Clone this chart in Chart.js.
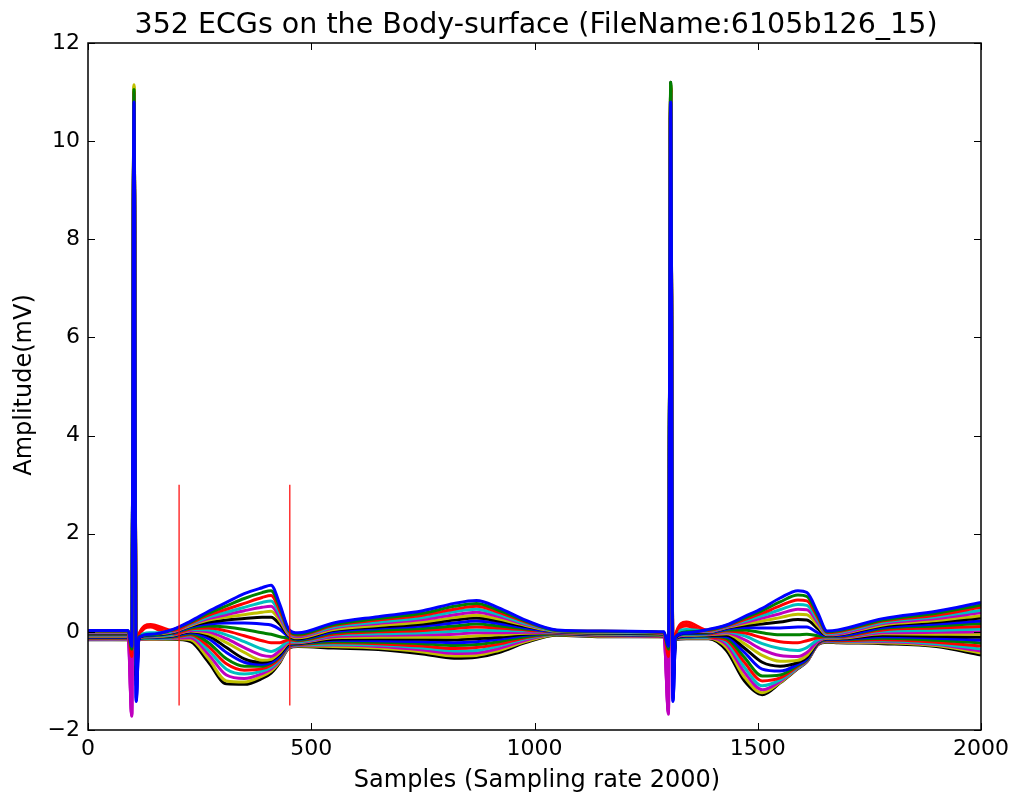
<!DOCTYPE html>
<html>
<head>
<meta charset="utf-8">
<script src="https://cdn.jsdelivr.net/npm/chart.js@4.4.1/dist/chart.umd.min.js"></script>
<style>
html,body{margin:0;padding:0;background:#fff;}
canvas{display:block;}
</style>
</head>
<body>
<canvas id="c" width="1015" height="796"></canvas>
<script>
// Sample positions (x, in samples) shared by all traces
const samples = [0, 90, 98, 103, 108, 114, 140, 190, 230, 270, 310, 350, 390, 410, 430, 450, 470, 550, 650, 750, 820, 870, 920, 980, 1050, 1150, 1290, 1300, 1305, 1310, 1316, 1340, 1390, 1430, 1470, 1510, 1550, 1590, 1610, 1635, 1655, 1680, 1780, 1900, 2000];

// Representative body-surface leads (mV), top to bottom of the fan
const lead01 = [0.03, 0.03, -0.3, 10.8, -1.4, -0.12, -0.05, 0.05, 0.22, 0.42, 0.60, 0.78, 0.90, 0.95, 0.55, 0.05, -0.02, 0.18, 0.31, 0.43, 0.58, 0.64, 0.49, 0.24, 0.04, 0.02, 0.0, -0.3, 10.8, -1.4, -0.1, -0.02, 0.05, 0.14, 0.31, 0.48, 0.69, 0.84, 0.80, 0.38, 0.02, 0.04, 0.27, 0.42, 0.60];
const lead02 = [0.02, 0.02, -0.35, 11.05, -0.8, -0.1, -0.06, 0.04, 0.20, 0.38, 0.53, 0.68, 0.80, 0.84, 0.50, 0.02, -0.05, 0.15, 0.27, 0.38, 0.52, 0.58, 0.44, 0.22, 0.03, 0.01, -0.01, -0.35, 11.2, -0.8, -0.1, 0.0, 0.04, 0.13, 0.28, 0.43, 0.61, 0.75, 0.72, 0.33, 0.00, 0.02, 0.24, 0.38, 0.55];
const lead03 = [0.01, 0.01, -0.5, 11.0, -0.6, -0.05, 0.15, 0.03, 0.18, 0.34, 0.46, 0.58, 0.70, 0.74, 0.42, 0.00, -0.07, 0.13, 0.24, 0.34, 0.46, 0.52, 0.40, 0.20, 0.03, 0.01, -0.02, -0.5, 11.05, -0.6, -0.05, 0.2, 0.03, 0.12, 0.25, 0.38, 0.53, 0.65, 0.63, 0.28, -0.02, 0.00, 0.22, 0.34, 0.50];
const lead04 = [0.0, 0.0, -0.4, 10.95, -0.7, -0.08, -0.02, 0.02, 0.16, 0.30, 0.40, 0.50, 0.60, 0.63, 0.35, -0.02, -0.08, 0.10, 0.20, 0.29, 0.41, 0.46, 0.35, 0.17, 0.02, 0.0, -0.02, -0.4, 11.0, -0.7, -0.08, 0.05, 0.02, 0.11, 0.22, 0.33, 0.45, 0.56, 0.54, 0.23, -0.04, -0.02, 0.19, 0.31, 0.44];
const lead05 = [-0.01, -0.01, -1.7, 10.85, -0.5, -0.1, -0.04, 0.01, 0.15, 0.27, 0.35, 0.43, 0.50, 0.52, 0.28, -0.04, -0.10, 0.08, 0.17, 0.25, 0.35, 0.40, 0.31, 0.15, 0.02, 0.0, -0.03, -1.65, 10.9, -0.5, -0.1, 0.02, 0.01, 0.10, 0.19, 0.28, 0.37, 0.46, 0.45, 0.18, -0.05, -0.04, 0.17, 0.27, 0.39];
const lead06 = [-0.02, -0.02, -0.3, 11.15, -0.45, -0.1, -0.05, 0.0, 0.13, 0.24, 0.30, 0.35, 0.40, 0.42, 0.22, -0.06, -0.12, 0.05, 0.13, 0.20, 0.29, 0.34, 0.26, 0.13, 0.01, -0.01, -0.03, -0.3, 11.15, -0.45, -0.1, 0.0, 0.0, 0.09, 0.16, 0.22, 0.29, 0.36, 0.35, 0.12, -0.06, -0.05, 0.14, 0.23, 0.33];
const lead07 = [-0.03, -0.03, -0.45, 10.8, -0.9, -0.12, -0.06, -0.01, 0.12, 0.20, 0.24, 0.27, 0.30, 0.30, 0.15, -0.08, -0.14, 0.03, 0.10, 0.16, 0.24, 0.28, 0.22, 0.11, 0.01, -0.02, -0.04, -0.45, 11.1, -0.9, -0.12, -0.02, -0.01, 0.08, 0.13, 0.16, 0.20, 0.25, 0.24, 0.06, -0.07, -0.06, 0.12, 0.20, 0.28];
const lead08 = [-0.04, -0.04, -0.35, 10.8, -1.35, -0.12, -0.07, -0.02, 0.10, 0.16, 0.18, 0.18, 0.16, 0.14, 0.05, -0.10, -0.15, 0.00, 0.07, 0.12, 0.18, 0.22, 0.17, 0.08, 0.00, -0.02, -0.04, -0.35, 10.8, -1.35, -0.12, -0.03, -0.02, 0.06, 0.09, 0.08, 0.08, 0.10, 0.10, -0.02, -0.08, -0.08, 0.09, 0.16, 0.22];
const lead09 = [-0.05, -0.05, -0.4, 11.05, -0.7, -0.1, -0.08, -0.03, 0.08, 0.12, 0.10, 0.05, -0.02, -0.05, -0.10, -0.13, -0.17, -0.02, 0.03, 0.07, 0.12, 0.16, 0.12, 0.06, 0.00, -0.03, -0.05, -0.4, 11.15, -0.7, -0.1, -0.04, -0.03, 0.04, 0.04, -0.02, -0.06, -0.06, -0.05, -0.08, -0.09, -0.09, 0.07, 0.12, 0.17];
const lead10 = [-0.06, -0.06, -0.55, 11.0, -0.55, -0.05, 0.12, -0.04, 0.06, 0.08, 0.02, -0.08, -0.18, -0.22, -0.22, -0.16, -0.18, -0.05, 0.00, 0.03, 0.07, 0.10, 0.08, 0.04, -0.01, -0.03, -0.05, -0.55, 11.05, -0.55, -0.05, 0.15, -0.04, 0.02, -0.02, -0.12, -0.20, -0.22, -0.18, -0.12, -0.10, -0.10, 0.04, 0.08, 0.11];
const lead11 = [-0.07, -0.07, -0.4, 10.95, -0.65, -0.1, -0.08, -0.05, 0.05, 0.04, -0.06, -0.20, -0.35, -0.40, -0.32, -0.19, -0.20, -0.07, -0.04, -0.02, 0.01, 0.04, 0.03, 0.02, -0.01, -0.04, -0.06, -0.4, 11.0, -0.65, -0.1, -0.05, -0.04, 0.00, -0.08, -0.24, -0.34, -0.38, -0.32, -0.16, -0.11, -0.11, 0.01, 0.03, 0.06];
const lead12 = [-0.08, -0.08, -1.72, 10.85, -0.6, -0.12, -0.09, -0.06, 0.03, 0.00, -0.14, -0.32, -0.48, -0.50, -0.38, -0.21, -0.21, -0.10, -0.07, -0.06, -0.05, -0.02, -0.02, -0.01, -0.02, -0.04, -0.06, -1.68, 10.9, -0.6, -0.12, -0.06, -0.05, -0.02, -0.16, -0.36, -0.48, -0.50, -0.42, -0.19, -0.12, -0.12, -0.02, -0.01, 0.0];
const lead13 = [-0.09, -0.09, -0.3, 11.12, -0.5, -0.12, -0.1, -0.07, 0.02, -0.04, -0.22, -0.42, -0.58, -0.56, -0.42, -0.23, -0.22, -0.12, -0.11, -0.11, -0.11, -0.08, -0.06, -0.03, -0.02, -0.05, -0.07, -0.3, 11.12, -0.5, -0.12, -0.07, -0.06, -0.04, -0.24, -0.48, -0.60, -0.58, -0.48, -0.20, -0.13, -0.13, -0.04, -0.05, -0.05];
const lead14 = [-0.1, -0.1, -0.5, 10.8, -1.0, -0.13, -0.1, -0.08, 0.0, -0.08, -0.32, -0.55, -0.62, -0.58, -0.45, -0.25, -0.23, -0.15, -0.14, -0.15, -0.16, -0.14, -0.11, -0.05, -0.03, -0.05, -0.07, -0.5, 11.2, -1.0, -0.13, -0.08, -0.07, -0.07, -0.33, -0.62, -0.70, -0.62, -0.52, -0.21, -0.14, -0.14, -0.07, -0.09, -0.11];
const lead15 = [-0.11, -0.11, -0.35, 10.8, -1.42, -0.14, -0.11, -0.09, -0.02, -0.14, -0.42, -0.62, -0.66, -0.62, -0.48, -0.27, -0.24, -0.17, -0.18, -0.20, -0.22, -0.20, -0.15, -0.07, -0.03, -0.06, -0.08, -0.35, 10.8, -1.42, -0.14, -0.09, -0.08, -0.10, -0.42, -0.76, -0.80, -0.66, -0.55, -0.22, -0.15, -0.15, -0.10, -0.13, -0.17];
const lead16 = [-0.12, -0.12, -0.4, 11.05, -0.75, -0.14, -0.12, -0.1, -0.04, -0.22, -0.55, -0.70, -0.70, -0.64, -0.50, -0.28, -0.25, -0.20, -0.21, -0.24, -0.28, -0.26, -0.20, -0.10, -0.04, -0.06, -0.08, -0.4, 11.15, -0.75, -0.14, -0.1, -0.09, -0.13, -0.52, -0.90, -0.88, -0.68, -0.57, -0.23, -0.16, -0.16, -0.13, -0.17, -0.23];
const lead17 = [-0.13, -0.13, -0.6, 11.0, -0.6, -0.1, 0.1, -0.11, -0.06, -0.30, -0.65, -0.78, -0.75, -0.68, -0.53, -0.29, -0.26, -0.22, -0.24, -0.29, -0.34, -0.32, -0.25, -0.12, -0.04, -0.07, -0.09, -0.6, 11.05, -0.6, -0.1, 0.12, -0.1, -0.17, -0.62, -1.00, -0.94, -0.70, -0.58, -0.24, -0.17, -0.18, -0.16, -0.21, -0.29];
const lead18 = [-0.14, -0.14, -0.45, 10.95, -0.7, -0.14, -0.13, -0.12, -0.08, -0.38, -0.76, -0.86, -0.80, -0.72, -0.56, -0.30, -0.27, -0.25, -0.27, -0.33, -0.39, -0.38, -0.29, -0.14, -0.05, -0.07, -0.09, -0.45, 11.0, -0.7, -0.14, -0.11, -0.11, -0.21, -0.72, -1.10, -0.98, -0.72, -0.59, -0.24, -0.18, -0.19, -0.18, -0.24, -0.35];
const lead19 = [-0.15, -0.15, -1.68, 10.85, -0.65, -0.15, -0.14, -0.13, -0.12, -0.46, -0.88, -0.95, -0.85, -0.76, -0.58, -0.31, -0.28, -0.27, -0.30, -0.37, -0.44, -0.43, -0.34, -0.17, -0.05, -0.08, -0.1, -1.62, 10.9, -0.65, -0.15, -0.12, -0.12, -0.26, -0.82, -1.18, -1.01, -0.73, -0.60, -0.25, -0.19, -0.20, -0.20, -0.26, -0.39];
const lead20 = [-0.15, -0.16, -0.35, 11.1, -0.5, -0.15, -0.15, -0.14, -0.16, -0.55, -1.00, -1.02, -0.90, -0.80, -0.60, -0.32, -0.29, -0.30, -0.33, -0.41, -0.49, -0.48, -0.38, -0.20, -0.06, -0.09, -0.1, -0.35, 11.1, -0.5, -0.15, -0.13, -0.13, -0.32, -0.92, -1.24, -1.03, -0.74, -0.60, -0.25, -0.20, -0.21, -0.22, -0.28, -0.43];
const lead21 = [-0.16, -0.16, -0.5, 10.8, -1.1, -0.16, -0.15, -0.15, -0.20, -0.62, -1.06, -1.07, -0.95, -0.84, -0.62, -0.33, -0.30, -0.33, -0.36, -0.45, -0.54, -0.52, -0.42, -0.22, -0.07, -0.1, -0.1, -0.5, 11.1, -1.1, -0.16, -0.14, -0.14, -0.38, -1.00, -1.28, -1.04, -0.75, -0.61, -0.26, -0.21, -0.22, -0.24, -0.30, -0.47];

const leads = [lead01, lead02, lead03, lead04, lead05, lead06, lead07, lead08, lead09, lead10, lead11, lead12, lead13, lead14, lead15, lead16, lead17, lead18, lead19, lead20, lead21];

// Red marker lines (sample positions) and their vertical extent (mV)
const markerSamples = [204, 452];
const markerRange = [3, -1.5];

// Axis tick values and texts
const xTicks = [0, 500, 1000, 1500, 2000];
const yTicks = [-2, 0, 2, 4, 6, 8, 10, 12];
const titleText = '352 ECGs on the Body-surface (FileName:6105b126_15)';
const xLabel = 'Samples (Sampling rate 2000)';
const yLabel = 'Amplitude(mV)';

const palette = ['#0000ff', '#008000', '#ff0000', '#00bfbf', '#bf00bf', '#bfbf00', '#000000'];

const datasets = leads.map((vals, i) => ({
  data: samples.map((s, j) => ({x: s, y: vals[j]})),
  borderColor: palette[i % palette.length],
  borderWidth: 3,
  pointRadius: 0,
  cubicInterpolationMode: 'monotone',
  fill: false,
  order: 1
}));
markerSamples.forEach(s => datasets.push({
  data: markerRange.map(v => ({x: s, y: v})),
  borderColor: '#ff0000',
  borderWidth: 1.2,
  pointRadius: 0,
  fill: false,
  order: 0
}));

Chart.defaults.font.family = '"DejaVu Sans", sans-serif';
Chart.defaults.color = '#000';

const frame = {
  id: 'frame',
  afterDraw(chart) {
    const {ctx, chartArea: a, scales: {x, y}} = chart;
    ctx.save();
    ctx.strokeStyle = '#000';
    ctx.lineWidth = 1;
    ctx.beginPath();
    xTicks.forEach(v => {
      const px = Math.round(x.getPixelForValue(v)) + 0.5;
      ctx.moveTo(px, a.bottom); ctx.lineTo(px, a.bottom - 7);
      ctx.moveTo(px, a.top); ctx.lineTo(px, a.top + 7);
    });
    yTicks.forEach(v => {
      const py = Math.round(y.getPixelForValue(v)) + 0.5;
      ctx.moveTo(a.left, py); ctx.lineTo(a.left + 7, py);
      ctx.moveTo(a.right, py); ctx.lineTo(a.right - 7, py);
    });
    ctx.stroke();
    ctx.lineWidth = 1.5;
    ctx.strokeRect(a.left, a.top, a.right - a.left, a.bottom - a.top);

    ctx.fillStyle = '#000';
    ctx.textAlign = 'center';
    ctx.textBaseline = 'alphabetic';
    ctx.font = '28.5px "DejaVu Sans"';
    ctx.fillText(titleText, 536, 33);
    ctx.font = '24px "DejaVu Sans"';
    ctx.fillText(xLabel, 537, 787);
    ctx.translate(31, 385);
    ctx.rotate(-Math.PI / 2);
    ctx.fillText(yLabel, 0, 0);
    ctx.restore();
  }
};

new Chart(document.getElementById('c'), {
  type: 'line',
  data: {datasets},
  options: {
    responsive: false,
    animation: false,
    events: [],
    layout: {padding: {left: 0, right: 34, top: 43, bottom: 0}},
    plugins: {legend: {display: false}, tooltip: {enabled: false}, title: {display: false}},
    scales: {
      x: {
        type: 'linear', min: 0, max: 2000,
        grid: {display: false, drawTicks: false},
        border: {display: false},
        afterBuildTicks: s => { s.ticks = xTicks.map(v => ({value: v})); },
        afterFit: s => { s.height = 66; },
        ticks: {font: {size: 22}, padding: 6, maxRotation: 0, callback: v => String(v)}
      },
      y: {
        type: 'linear', min: -2, max: 12,
        grid: {display: false, drawTicks: false},
        border: {display: false},
        afterBuildTicks: s => { s.ticks = yTicks.map(v => ({value: v})); },
        afterFit: s => { s.width = 88; },
        ticks: {font: {size: 22}, padding: 8, callback: v => v < 0 ? '\u2212' + Math.abs(v) : String(v)}
      }
    }
  },
  plugins: [frame]
});
</script>
</body>
</html>
